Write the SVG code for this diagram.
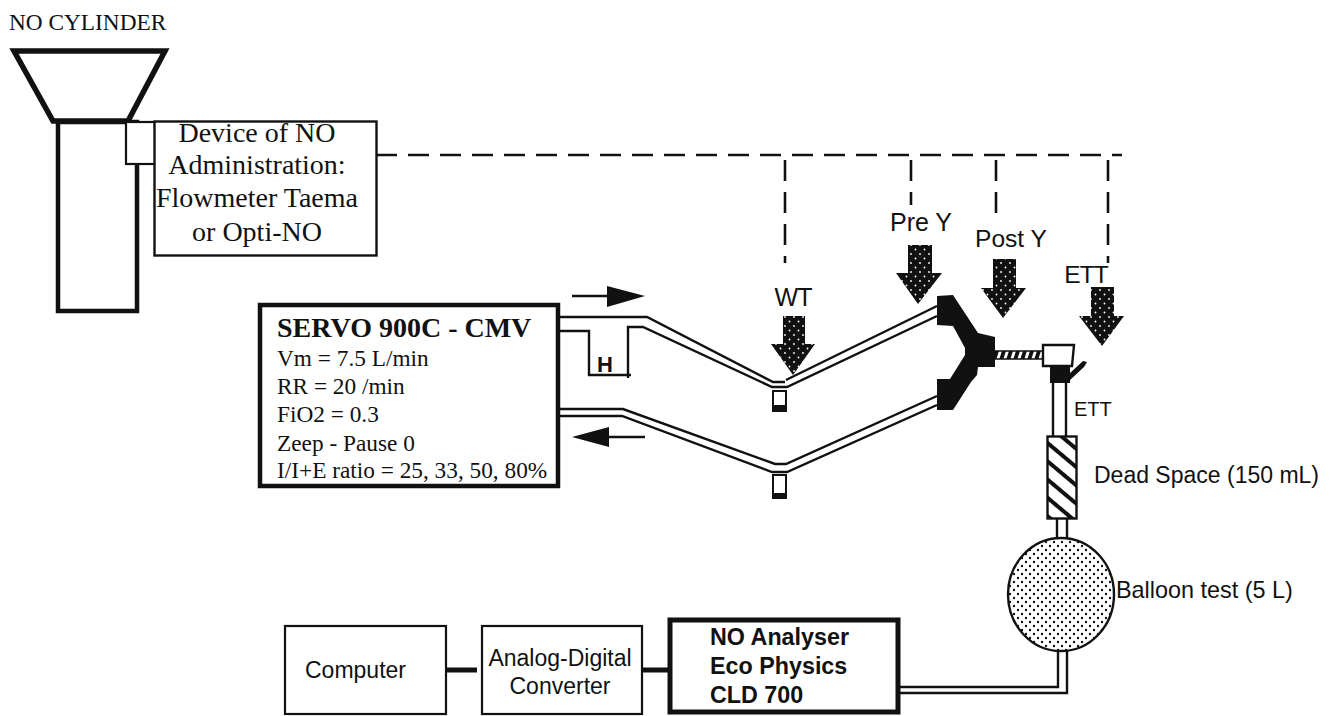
<svg xmlns="http://www.w3.org/2000/svg" width="1332" height="716" viewBox="0 0 1332 716">
<style>
.serif{font-family:"Liberation Serif",serif;fill:#111}
.sans{font-family:"Liberation Sans",sans-serif;fill:#111}
.box{fill:#fff;stroke:#111}
.line{fill:none;stroke:#111;stroke-width:2.400}
.dash{fill:none;stroke:#111;stroke-width:2.600;stroke-dasharray:21 11}
.arrow{fill:url(#stip)}
.solid{fill:#111;stroke:none}
</style>
<defs>
<pattern id="stip" width="9" height="9" patternUnits="userSpaceOnUse">
<rect width="9" height="9" fill="#111"/>
<circle cx="2" cy="2" r="0.9" fill="#fff"/>
<circle cx="6.5" cy="6.5" r="0.9" fill="#fff"/>
</pattern>
<pattern id="dots" width="8" height="8" patternUnits="userSpaceOnUse">
<rect width="8" height="8" fill="#fff"/>
<circle cx="2" cy="2" r="1.2" fill="#111"/>
<circle cx="6" cy="6" r="1.2" fill="#111"/>
</pattern>
<pattern id="hatch" width="14" height="14" patternUnits="userSpaceOnUse" patternTransform="rotate(40)">
<rect width="14" height="14" fill="#fff"/>
<rect width="14" height="4" fill="#111"/>
</pattern>
<pattern id="coil" width="7" height="8" patternUnits="userSpaceOnUse" patternTransform="skewX(-18)">
<rect width="7" height="8" fill="#111"/>
<rect width="3" height="8" fill="#fff"/>
</pattern>
</defs>
<rect width="1332" height="716" fill="#fff"/>

<g id="connectors">
<path class="dash" d="M376 155H1122"/>
<path class="dash" d="M785 160V263"/>
<path class="dash" d="M911 160V205"/>
<path class="dash" d="M996 160V220"/>
<path class="dash" d="M1108 160V263"/>
<path class="line" d="M558 317H647L773 382H785M786 380L937 306"/>
<path class="line" d="M558 331H589V375H631M628 378V327H643L772 387H787L937 316"/>
<path class="line" d="M556 409H623L775 464H786L937 396"/>
<path class="line" d="M556 416H622L772 472H787L937 405"/>
<path class="line" d="M1053 383V437M1066 383V437"/>
<path class="line" d="M1057 519V538M1067 519V538"/>
<path class="line" d="M1058 650V687H900M1067 650V693H900"/>
<path d="M446 670H477M642 670H668" fill="none" stroke="#111" stroke-width="5"/>
<path d="M572 296H610" class="line"/>
<path class="solid" d="M607 286L645 296L607 307Z"/>
<path d="M607 437H645" class="line"/>
<path class="solid" d="M572 437L609 427V447Z"/>
</g>

<g id="cylinder">
<path d="M14 51H165L128 121H53Z" fill="#fff" stroke="#111" stroke-width="5.500" stroke-linejoin="miter"/>
<rect class="box" x="58" y="122" width="79" height="189" stroke-width="4.500"/>
<text class="serif" x="9" y="30" font-size="23.300">NO CYLINDER</text>
</g>

<g id="device">
<rect class="box" x="126" y="122" width="30" height="42" stroke-width="2.200"/>
<rect class="box" x="154.500" y="121.500" width="222" height="134" stroke-width="2.400"/>
<g class="serif" font-size="28" text-anchor="middle">
<text x="257" y="142">Device of NO</text>
<text x="257" y="174">Administration:</text>
<text x="257" y="207">Flowmeter Taema</text>
<text x="257" y="241">or Opti-NO</text>
</g>
</g>

<g id="servo">
<rect class="box" x="260" y="305" width="298" height="181" stroke-width="4.500"/>
<text class="serif" x="277" y="337" font-size="28" font-weight="bold">SERVO 900C - CMV</text>
<g class="serif" font-size="23.300">
<text x="277" y="366">Vm = 7.5 L/min</text>
<text x="277" y="394">RR = 20 /min</text>
<text x="277" y="422">FiO2 = 0.3</text>
<text x="277" y="451">Zeep - Pause 0</text>
<text x="277" y="478">I/I+E ratio = 25, 33, 50, 80%</text>
</g>
<text class="sans" x="597" y="372" font-size="22" font-weight="bold">H</text>
</g>

<g id="trap-upper">
<rect class="box" x="773" y="391" width="13" height="20" stroke-width="2"/>
<rect class="solid" x="772" y="405" width="15" height="7"/>
</g>
<g id="trap-lower">
<rect class="box" x="773" y="475" width="13" height="23" stroke-width="2"/>
<rect class="solid" x="772" y="493" width="15" height="6"/>
</g>

<g id="wt">
<text class="sans" x="793" y="306" font-size="25" text-anchor="middle" letter-spacing="-1">WT</text>
<path class="arrow" d="M783 316H805V344H815L793 375L771 344H783Z"/>
</g>
<g id="pre-y">
<text class="sans" x="921" y="231" font-size="25" text-anchor="middle">Pre Y</text>
<path class="arrow" d="M908 245H932V273H942L918 304L896 273H908Z"/>
</g>
<g id="post-y">
<text class="sans" x="1011" y="247" font-size="24.600" text-anchor="middle">Post Y</text>
<path class="arrow" d="M993 259H1016V288H1026L1003 318L981 288H993Z"/>
</g>
<g id="ett-top">
<text class="sans" x="1086" y="283" font-size="24.500" text-anchor="middle" letter-spacing="-1">ETT</text>
<path class="arrow" d="M1091 287H1114V316H1124L1102 346L1079 316H1091Z"/>
</g>

<g id="y-piece">
<path class="solid" d="M937 296L953 295L978 333L995 337V367L978 367L977 375L971 382L953 410H937V379H950L965 355V348L953 326L937 325Z"/>
<rect x="995" y="351" width="48" height="8" fill="url(#coil)" stroke="#111" stroke-width="1.500"/>
<path d="M1043 345H1074L1072 366H1043Z" fill="#fff" stroke="#111" stroke-width="2.400"/>
<path class="solid" d="M1050 367H1070V373L1083 361L1087 362L1084 367L1070 380V383H1050Z"/>
<text class="sans" x="1074" y="416" font-size="20">ETT</text>
</g>

<g id="dead-space">
<rect x="1047.500" y="436.500" width="29" height="82" fill="url(#hatch)" stroke="#111" stroke-width="2.400"/>
<text class="sans" x="1094" y="483" font-size="23">Dead Space (150 mL)</text>
</g>

<g id="balloon">
<ellipse cx="1061" cy="594.500" rx="53" ry="56.500" fill="url(#dots)" stroke="#111" stroke-width="2.400"/>
<text class="sans" x="1116" y="598" font-size="23.400">Balloon test (5 L)</text>
</g>

<g id="analyser">
<rect class="box" x="670" y="620" width="228" height="92" stroke-width="5"/>
<g class="sans" font-size="23.300" font-weight="bold">
<text x="710" y="645">NO Analyser</text>
<text x="710" y="674">Eco Physics</text>
<text x="710" y="703">CLD 700</text>
</g>
</g>

<g id="adc">
<rect class="box" x="482" y="626" width="160" height="88" stroke-width="2.200"/>
<g class="sans" font-size="23" text-anchor="middle">
<text x="560" y="666">Analog-Digital</text>
<text x="560" y="694">Converter</text>
</g>
</g>

<g id="computer">
<rect class="box" x="285" y="626" width="161" height="88" stroke-width="2.200"/>
<text class="sans" x="305" y="678" font-size="23">Computer</text>
</g>
</svg>
